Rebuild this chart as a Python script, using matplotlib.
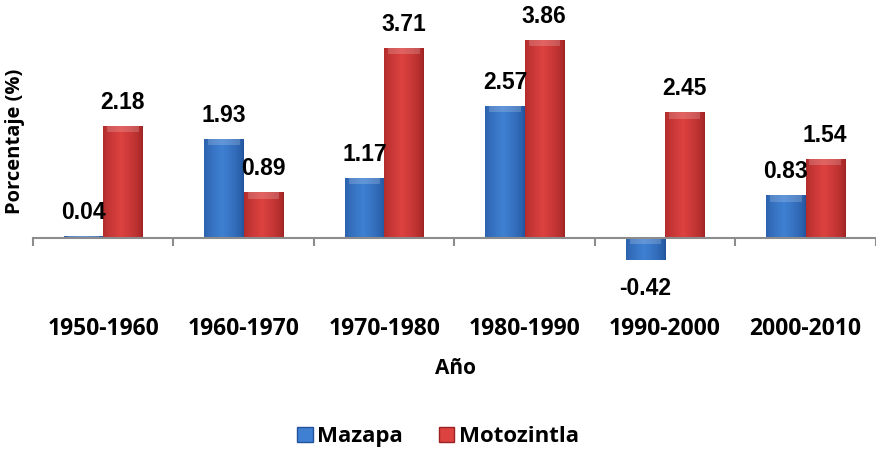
import numpy as np
import matplotlib
matplotlib.use("Agg")
import matplotlib.pyplot as plt
from matplotlib import font_manager as fm
from matplotlib.patches import Patch

categories = ["1950-1960", "1960-1970", "1970-1980", "1980-1990", "1990-2000", "2000-2010"]
mazapa = [0.04, 1.93, 1.17, 2.57, -0.42, 0.83]
motozintla = [2.18, 0.89, 3.71, 3.86, 2.45, 1.54]
labels_maz = ["0.04", "1.93", "1.17", "2.57", "-0.42", "0.83"]
labels_mot = ["2.18", "0.89", "3.71", "3.86", "2.45", "1.54"]
series_names = ["Mazapa", "Motozintla"]

names = {f.name for f in fm.fontManager.ttflist}
narrow = "Liberation Sans Narrow" if "Liberation Sans Narrow" in names else "Liberation Sans"
body = "Open Sans"

blue_main = np.array([0x3f, 0x80, 0xd2]) / 255
blue_dark = np.array([0x22, 0x52, 0x9a]) / 255
red_main = np.array([0xdc, 0x42, 0x40]) / 255
red_dark = np.array([0x9c, 0x22, 0x22]) / 255

fig = plt.figure(figsize=(8.76, 4.55), dpi=100)
ax = fig.add_axes([0.0377, 0.4066, 0.962, 0.549])
ax.set_xlim(-0.5, 5.5)
ax.set_ylim(-0.624, 4.25)

x = np.arange(len(categories))
w = 0.28
off = 0.14


def gradient_bars(bars, main, dark):
    for b in bars:
        b.set_facecolor(main)
        b.set_edgecolor("none")
        t = np.linspace(0, 1, 64)
        prof = np.clip(1 - np.abs(t - 0.45) / 0.55, 0, 1) ** 0.6
        cols = dark[None, :] + (main[None, :] - dark[None, :]) * prof[:, None]
        img = np.repeat(cols[None, :, :], 2, axis=0)
        x0, y0 = b.get_x(), b.get_y()
        x1, y1 = x0 + b.get_width(), y0 + b.get_height()
        im = ax.imshow(img, extent=[x0, x1, min(y0, y1), max(y0, y1)],
                       aspect="auto", zorder=2, interpolation="bilinear")
        im.set_clip_path(b)
        hb = max(y0, y1)
        h = min(0.12, abs(y1 - y0))
        ax.bar(b.get_x() + b.get_width() / 2, -h, bottom=hb, width=b.get_width() * 0.8,
               color="white", alpha=0.18, zorder=3)


b1 = ax.bar(x - off, mazapa, width=w, zorder=2)
b2 = ax.bar(x + off, motozintla, width=w, zorder=2)
gradient_bars(b1, blue_main, blue_dark)
gradient_bars(b2, red_main, red_dark)

for xi, v, lab in zip(x - off, mazapa, labels_maz):
    dy = 17 if v >= 0 else -21
    ax.annotate(lab, (xi, v), xytext=(0, dy), textcoords="offset points",
                ha="center", va="center", fontsize=16.5, fontweight="bold", family=narrow)
for xi, v, lab in zip(x + off, motozintla, labels_mot):
    ax.annotate(lab, (xi, v), xytext=(0, 17), textcoords="offset points",
                ha="center", va="center", fontsize=16.5, fontweight="bold", family=narrow)

for s in ["top", "right", "left"]:
    ax.spines[s].set_visible(False)
ax.spines["bottom"].set_position(("data", 0))
ax.spines["bottom"].set_color("#8c8c8c")
ax.spines["bottom"].set_linewidth(1.5)
ax.spines["bottom"].set_zorder(4)
ax.set_yticks([])

ax.set_xticks(np.arange(-0.5, 6, 1.0))
ax.set_xticklabels([])
ax.tick_params(axis="x", which="major", direction="out", length=6, width=1.5, color="#8c8c8c")
ax.set_xticks(x, minor=True)
ax.set_xticklabels(categories, minor=True, fontsize=16.5, fontweight="bold", family=body)
ax.tick_params(axis="x", which="minor", length=0, pad=57)

fig.text(0.017, 0.69, "Porcentaje (%)", rotation=90, ha="center", va="center",
         fontsize=14.5, fontweight="bold", family=body)
fig.text(0.52, 0.19, "Año", ha="center", va="center", fontsize=15, fontweight="bold", family=body)

handles = [Patch(facecolor=blue_main, edgecolor=blue_dark), Patch(facecolor=red_main, edgecolor=red_dark)]
fig.legend(handles, series_names, loc="center", bbox_to_anchor=(0.5, 0.04), ncol=2, frameon=False,
           prop=dict(family=body, weight="bold", size=16), handlelength=0.7, handleheight=0.7,
           handletextpad=0.2, columnspacing=1.6)

fig.savefig("out.png", dpi=100)
